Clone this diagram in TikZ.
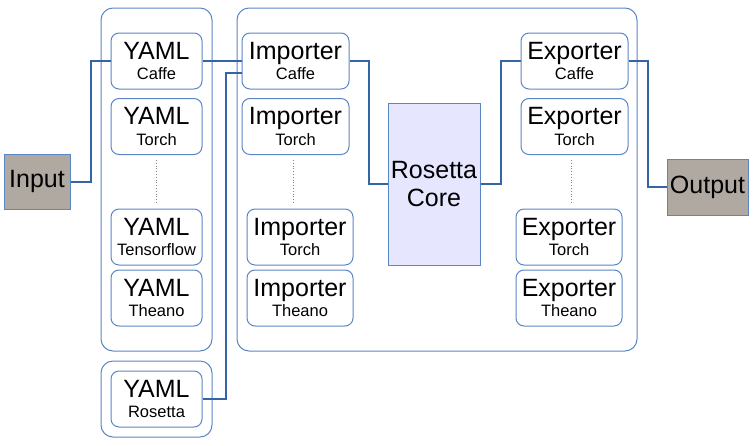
\documentclass[tikz,border=0pt]{standalone}
\usepackage{fontspec}
\setmainfont{Liberation Sans}
\usepackage{tikz}
\definecolor{wireblue}{HTML}{3465A4}
\definecolor{boxblue}{HTML}{5B86C5}
\definecolor{corefill}{HTML}{E6E6FF}
\definecolor{iofill}{HTML}{B0A9A2}
\newcommand{\bigtxt}{\fontsize{25}{20.5}\selectfont}
\newcommand{\smalltxt}{\fontsize{16.5}{20.5}\selectfont}
\tikzstyle{group}=[rectangle, draw=boxblue, line width=1pt, rounded corners=12pt, inner sep=0pt]
\tikzstyle{module}=[rectangle, draw=boxblue, line width=1pt, rounded corners=8pt, inner sep=0pt, minimum height=56pt, align=center, font=\bigtxt]
\tikzstyle{yamlbox}=[module, minimum width=91pt]
\tikzstyle{convbox}=[module, minimum width=107pt]
\tikzstyle{io}=[rectangle, draw=boxblue, line width=1pt, fill=iofill, inner sep=0pt, font=\bigtxt]
\tikzstyle{wire}=[draw=wireblue, line width=2pt]
\tikzstyle{dots}=[draw=gray, line width=0.8pt, dotted]

\begin{document}
\begin{tikzpicture}[x=1pt, y=-1pt]
		   \useasboundingbox (0,0) rectangle (753,445);
		   \begin{scope}
			   \node (g1) at (156.5, 179.5) [group, minimum width=111pt, minimum height=343pt] {};
			   \node (g2) at (156.5, 399) [group, minimum width=111pt, minimum height=76pt] {};
			   \node (g3) at (437, 179.5) [group, minimum width=400pt, minimum height=343pt] {};

			   \node (input) at (37, 181.5) [io, minimum width=66pt, minimum height=55pt] {Input};
			   \node (output) at (707.5, 187) [io, minimum width=81pt, minimum height=56pt] {Output};

			   \node (yc) at (156.5, 61) [yamlbox] {YAML\\\smalltxt Caffe};
			   \node (yt) at (156.5, 126.5) [yamlbox] {YAML\\\smalltxt Torch};
			   \node (ytf) at (156.5, 237) [yamlbox] {YAML\\\smalltxt Tensorflow};
			   \node (yth) at (156.5, 298) [yamlbox] {YAML\\\smalltxt Theano};
			   \node (yr) at (156.5, 399) [yamlbox] {YAML\\\smalltxt Rosetta};

			   \node (ic) at (295.5, 61) [convbox] {Importer\\\smalltxt Caffe};
			   \node (it) at (295.5, 126.5) [convbox] {Importer\\\smalltxt Torch};
			   \node (it2) at (300, 237) [convbox, minimum width=106pt] {Importer\\\smalltxt Torch};
			   \node (ith) at (300, 298) [convbox, minimum width=106pt] {Importer\\\smalltxt Theano};

			   \node (core) at (434, 184) [rectangle, draw=boxblue, line width=1pt, fill=corefill, inner sep=0pt, minimum width=92pt, minimum height=162pt, align=center, font=\fontsize{25}{28}\selectfont] {Rosetta\\Core};

			   \node (ec) at (574.5, 61) [convbox] {Exporter\\\smalltxt Caffe};
			   \node (et) at (574.5, 126.5) [convbox] {Exporter\\\smalltxt Torch};
			   \node (et2) at (569, 237) [convbox, minimum width=106pt] {Exporter\\\smalltxt Torch};
			   \node (eth) at (569, 298) [convbox, minimum width=106pt] {Exporter\\\smalltxt Theano};
		   \end{scope}
		   \begin{scope}
			   \path [dots] (156, 160) -- (156, 204);
			   \path [dots] (293, 160) -- (293, 204);
			   \path [dots] (571, 160) -- (571, 204);

			   \path [wire] (input.east) -- ++(20,0) |- (yc.west);
			   \path [wire] (yc.east) -- (ic.west);
			   \path [wire] (yr.east) -- ++(23,0) |- ([yshift=-12pt]ic.west);
			   \path [wire] (ic.east) -- ++(19,0) |- (core.west);
			   \path [wire] (core.east) -- ++(20,0) |- (ec.west);
			   \path [wire] (ec.east) -- ++(19,0) |- (output.west);
		   \end{scope}
	   \end{tikzpicture}
\end{document}
